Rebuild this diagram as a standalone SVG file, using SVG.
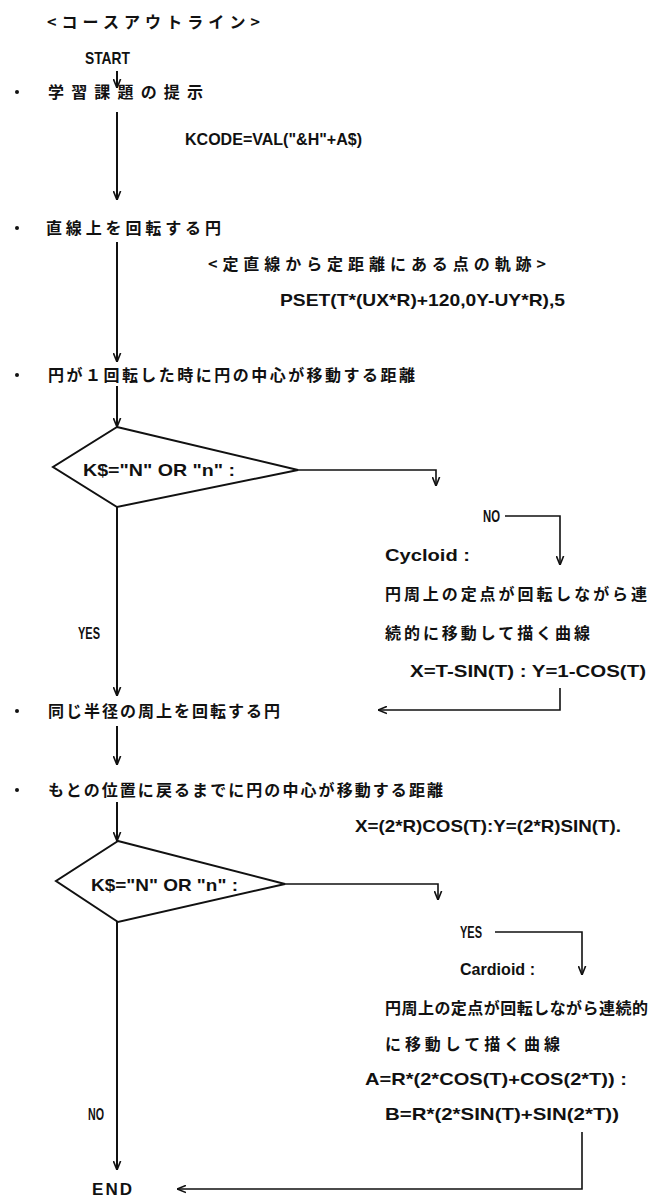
<svg xmlns="http://www.w3.org/2000/svg" width="649" height="1200" viewBox="0 0 649 1200">
<defs>
<style>
.j{font-family:"Noto Sans CJK JP","Noto Sans CJK SC",sans-serif;font-weight:bold;font-size:16px;fill:#111}
.a{font-family:"Liberation Sans",Arial,sans-serif;font-weight:bold;font-size:17px;fill:#111}
.ln{fill:none;stroke:#111;stroke-width:2}
.thin{fill:none;stroke:#111;stroke-width:1.6}
.dm{fill:#fff;stroke:#111;stroke-width:2}
</style>
<marker id="ah" viewBox="0 0 10 10" refX="10" refY="5" markerWidth="9" markerHeight="9" markerUnits="userSpaceOnUse" orient="auto">
<path d="M0,1 L10,5 L0,9" fill="none" stroke="#111" stroke-width="1.8"/>
</marker>
</defs>
<rect width="649" height="1200" fill="#fff"/>

<g id="connectors">
<path class="ln" d="M117,71 V88" marker-end="url(#ah)"/>
<path class="ln" d="M117,112 V200" marker-end="url(#ah)"/>
<path class="ln" d="M117,242 V362" marker-end="url(#ah)"/>
<path class="ln" d="M117,386 V427" marker-end="url(#ah)"/>
<path class="thin" d="M298,470 H436 V486" marker-end="url(#ah)"/>
<path class="thin" d="M505,516 H560 V565" marker-end="url(#ah)"/>
<path class="thin" d="M560,688 V710 H378" marker-end="url(#ah)"/>
<path class="ln" d="M117,507 V696" marker-end="url(#ah)"/>
<path class="ln" d="M117,726 V765" marker-end="url(#ah)"/>
<path class="ln" d="M117,802 V841" marker-end="url(#ah)"/>
<path class="thin" d="M285,884 H438 V900" marker-end="url(#ah)"/>
<path class="thin" d="M495,932 H582 V975" marker-end="url(#ah)"/>
<path class="thin" d="M582,1132 V1189 H177" marker-end="url(#ah)"/>
<path class="ln" d="M117,922 V1170" marker-end="url(#ah)"/>
</g>

<g id="title"><text class="j" x="47" y="28" textLength="213">&lt;コースアウトライン&gt;</text></g>
<g id="start"><text class="a" x="85" y="64" textLength="45" lengthAdjust="spacingAndGlyphs">START</text></g>

<g id="step1">
<circle cx="17" cy="92" r="2" fill="#111"/>
<text class="j" x="48" y="98" textLength="155">学習課題の提示</text>
</g>
<g id="note1"><text class="a" x="185" y="145" textLength="177" lengthAdjust="spacingAndGlyphs">KCODE=VAL("&amp;H"+A$)</text></g>

<g id="step2">
<circle cx="17" cy="228" r="2" fill="#111"/>
<text class="j" x="46" y="234" textLength="175">直線上を回転する円</text>
</g>
<g id="note2">
<text class="j" x="208" y="270" textLength="338">&lt;定直線から定距離にある点の軌跡&gt;</text>
<text class="a" x="280" y="306" textLength="285" lengthAdjust="spacingAndGlyphs">PSET(T*(UX*R)+120,0Y-UY*R),5</text>
</g>

<g id="step3">
<circle cx="17" cy="375" r="2" fill="#111"/>
<text class="j" x="48" y="381" textLength="367">円が１回転した時に円の中心が移動する距離</text>
</g>

<g id="decision1">
<polygon class="dm" points="117,427 298,470 117,507 53,467"/>
<text class="a" x="83" y="476" textLength="152" lengthAdjust="spacingAndGlyphs">K$="N" OR "n" :</text>
</g>
<g id="label-yes1"><text class="a" x="78" y="639" textLength="22" lengthAdjust="spacingAndGlyphs">YES</text></g>

<g id="cycloid">
<text class="a" x="483" y="522" textLength="17" lengthAdjust="spacingAndGlyphs">NO</text>
<text class="a" x="385" y="561" textLength="85" lengthAdjust="spacingAndGlyphs">Cycloid :</text>
<text class="j" x="385" y="600" textLength="262">円周上の定点が回転しながら連</text>
<text class="j" x="385" y="639" textLength="205">続的に移動して描く曲線</text>
<text class="a" x="410" y="677" textLength="236" lengthAdjust="spacingAndGlyphs">X=T-SIN(T)  : Y=1-COS(T)</text>
</g>

<g id="step4">
<circle cx="17" cy="711" r="2" fill="#111"/>
<text class="j" x="48" y="717" textLength="232">同じ半径の周上を回転する円</text>
</g>

<g id="step5">
<circle cx="17" cy="790" r="2" fill="#111"/>
<text class="j" x="48" y="796" textLength="395">もとの位置に戻るまでに円の中心が移動する距離</text>
</g>
<g id="note5"><text class="a" x="355" y="832" textLength="266" lengthAdjust="spacingAndGlyphs">X=(2*R)COS(T):Y=(2*R)SIN(T).</text></g>

<g id="decision2">
<polygon class="dm" points="118,841 285,884 118,922 56,881"/>
<text class="a" x="91" y="891" textLength="147" lengthAdjust="spacingAndGlyphs">K$="N" OR "n" :</text>
</g>

<g id="cardioid">
<text class="a" x="460" y="938" textLength="22" lengthAdjust="spacingAndGlyphs">YES</text>
<text class="a" x="460" y="975" textLength="75" lengthAdjust="spacingAndGlyphs">Cardioid  :</text>
<text class="j" x="385" y="1014" textLength="263">円周上の定点が回転しながら連続的</text>
<text class="j" x="385" y="1050" textLength="175">に移動して描く曲線</text>
<text class="a" x="365" y="1085" textLength="262" lengthAdjust="spacingAndGlyphs">A=R*(2*COS(T)+COS(2*T)) :</text>
<text class="a" x="385" y="1120" textLength="234" lengthAdjust="spacingAndGlyphs">B=R*(2*SIN(T)+SIN(2*T))</text>
</g>
<g id="label-no2"><text class="a" x="88" y="1120" textLength="16" lengthAdjust="spacingAndGlyphs">NO</text></g>

<g id="end"><text class="a" x="112" y="1195" text-anchor="middle" textLength="40" lengthAdjust="spacing">E N D</text></g>
</svg>
